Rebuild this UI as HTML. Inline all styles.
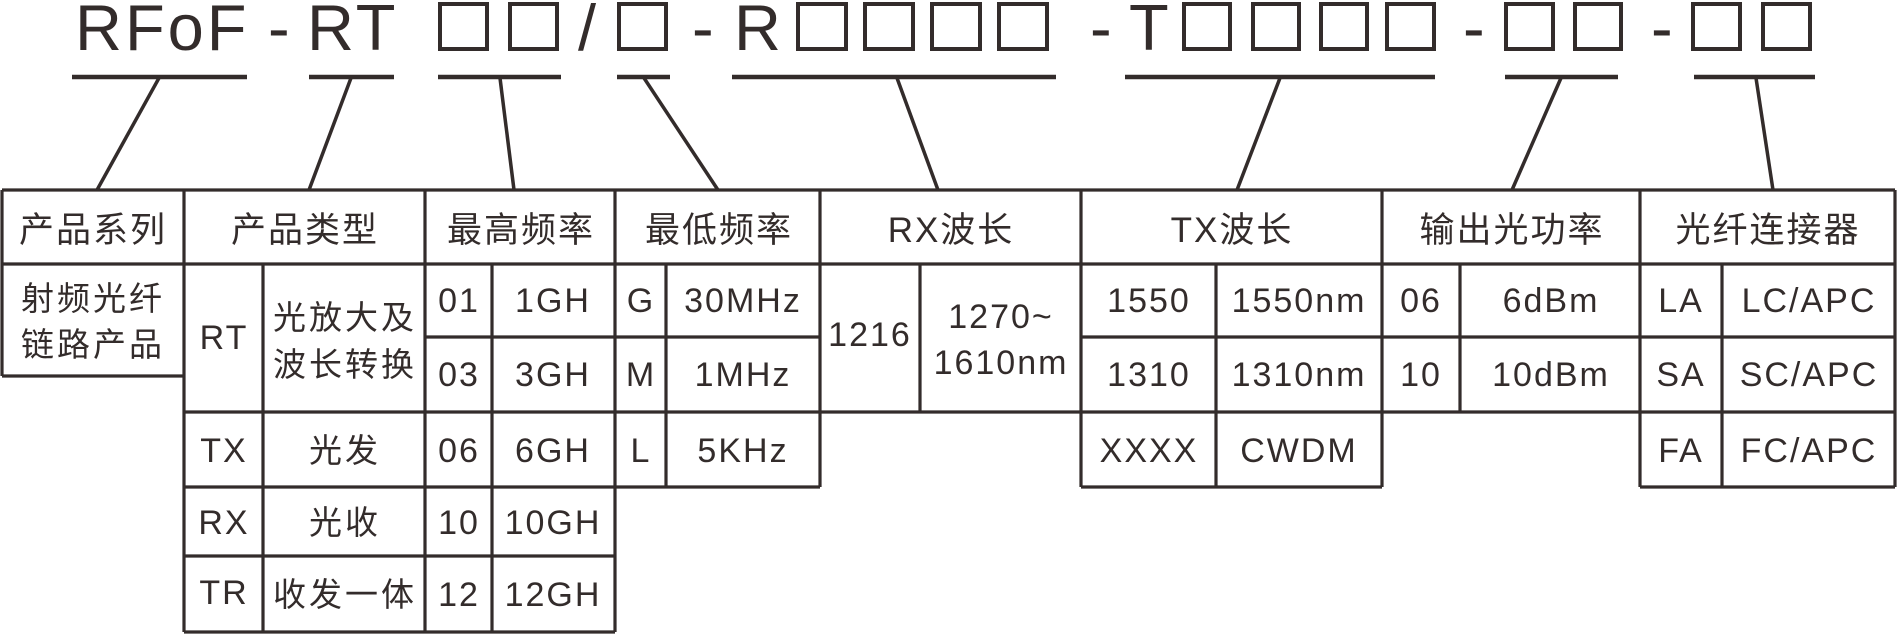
<!DOCTYPE html>
<html><head><meta charset="utf-8"><style>
html,body{margin:0;padding:0;background:#fff;}
svg{display:block;}
text{fill:#332c2b;font-family:"Liberation Sans","Noto Sans CJK SC",sans-serif;}
.t{font-size:34px;letter-spacing:2px;text-anchor:middle;}
.c{font-size:33px;letter-spacing:3px;text-anchor:middle;}
.hd{font-size:35px;letter-spacing:2px;text-anchor:middle;}
</style></head><body>
<svg width="1899" height="636" viewBox="0 0 1899 636" xmlns="http://www.w3.org/2000/svg">
<g fill="none" stroke="#332c2b">
<g stroke-width="4">
<rect x="440" y="4" width="47" height="45"/><rect x="510" y="4" width="47" height="45"/>
<rect x="619" y="4" width="47" height="45"/>
<rect x="798" y="4" width="48" height="45"/><rect x="865" y="4" width="48" height="45"/><rect x="932" y="4" width="48" height="45"/><rect x="999" y="4" width="48" height="45"/>
<rect x="1184" y="4" width="46" height="45"/><rect x="1253" y="4" width="46" height="45"/><rect x="1321" y="4" width="46" height="45"/><rect x="1387" y="4" width="47" height="45"/>
<rect x="1506" y="4" width="47" height="45"/><rect x="1575" y="4" width="46" height="45"/>
<rect x="1693" y="4" width="47" height="45"/><rect x="1763" y="4" width="47" height="45"/>
</g>
<g stroke-width="4.5">
<line x1="72" y1="77" x2="247" y2="77"/><line x1="309" y1="77" x2="394" y2="77"/>
<line x1="438" y1="77" x2="561" y2="77"/><line x1="617" y1="77" x2="670" y2="77"/>
<line x1="732" y1="77" x2="1056" y2="77"/><line x1="1125" y1="77" x2="1435" y2="77"/>
<line x1="1505" y1="77" x2="1618" y2="77"/><line x1="1694" y1="77" x2="1815" y2="77"/>
</g>
<g stroke-width="3.5">
<line x1="159" y1="78" x2="97" y2="190"/><line x1="351" y1="78" x2="309" y2="190"/>
<line x1="500" y1="78" x2="514" y2="190"/><line x1="644" y1="78" x2="718" y2="190"/>
<line x1="897" y1="78" x2="938" y2="190"/><line x1="1280" y1="78" x2="1237" y2="190"/>
<line x1="1561" y1="78" x2="1512" y2="190"/><line x1="1756" y1="78" x2="1773" y2="190"/>
</g>
<g stroke-width="3.2">
<line x1="2" y1="190" x2="1895" y2="190"/>
<line x1="2" y1="264" x2="1895" y2="264"/>
<line x1="2" y1="190" x2="2" y2="376"/><line x1="2" y1="376" x2="184" y2="376"/>
<line x1="184" y1="190" x2="184" y2="632"/>
<line x1="263" y1="264" x2="263" y2="632"/>
<line x1="425" y1="190" x2="425" y2="632"/>
<line x1="492" y1="264" x2="492" y2="632"/>
<line x1="615" y1="190" x2="615" y2="632"/>
<line x1="666" y1="264" x2="666" y2="487"/>
<line x1="820" y1="190" x2="820" y2="487"/>
<line x1="920" y1="264" x2="920" y2="412"/>
<line x1="1081" y1="190" x2="1081" y2="487"/>
<line x1="1216" y1="264" x2="1216" y2="487"/>
<line x1="1382" y1="190" x2="1382" y2="487"/>
<line x1="1460" y1="264" x2="1460" y2="412"/>
<line x1="1640" y1="190" x2="1640" y2="487"/>
<line x1="1722" y1="264" x2="1722" y2="487"/>
<line x1="1895" y1="190" x2="1895" y2="487"/>
<line x1="425" y1="337" x2="820" y2="337"/>
<line x1="1081" y1="337" x2="1895" y2="337"/>
<line x1="184" y1="412" x2="1895" y2="412"/>
<line x1="184" y1="487" x2="820" y2="487"/>
<line x1="1081" y1="487" x2="1382" y2="487"/>
<line x1="1640" y1="487" x2="1895" y2="487"/>
<line x1="184" y1="556" x2="615" y2="556"/>
<line x1="184" y1="632" x2="615" y2="632"/>
</g>
</g>
<g>
<text x="75" y="50" style="font-size:65px;letter-spacing:3px">RFoF</text>
<text x="268" y="50" style="font-size:65px">-</text>
<text x="307" y="50" style="font-size:65px;letter-spacing:3px">RT</text>
<text x="578" y="50" style="font-size:65px">/</text>
<text x="692" y="50" style="font-size:65px">-</text>
<text x="734" y="50" style="font-size:65px">R</text>
<text x="1090" y="50" style="font-size:65px">-</text>
<text x="1129" y="50" style="font-size:65px">T</text>
<text x="1463" y="50" style="font-size:65px">-</text>
<text x="1651" y="50" style="font-size:65px">-</text>
</g>
<text class="hd" x="93" y="242">产品系列</text>
<text class="hd" x="305" y="242">产品类型</text>
<text class="hd" x="521" y="242">最高频率</text>
<text class="hd" x="719" y="242">最低频率</text>
<text class="hd" x="951" y="242">RX波长</text>
<text class="hd" x="1232" y="242">TX波长</text>
<text class="hd" x="1512" y="242">输出光功率</text>
<text class="hd" x="1768" y="242">光纤连接器</text>
<text class="c" x="93" y="310">射频光纤</text>
<text class="c" x="93" y="356">链路产品</text>
<text class="t" x="224" y="349">RT</text>
<text class="c" x="345" y="329">光放大及</text>
<text class="c" x="345" y="376">波长转换</text>
<text class="t" x="224" y="462">TX</text><text class="c" x="345" y="462">光发</text>
<text class="t" x="224" y="534">RX</text><text class="c" x="345" y="534">光收</text>
<text class="t" x="224" y="604">TR</text><text class="c" x="345" y="606">收发一体</text>
<text class="t" x="459" y="312">01</text><text class="t" x="553" y="312">1GH</text>
<text class="t" x="459" y="386">03</text><text class="t" x="553" y="386">3GH</text>
<text class="t" x="459" y="462">06</text><text class="t" x="553" y="462">6GH</text>
<text class="t" x="459" y="534">10</text><text class="t" x="553" y="534">10GH</text>
<text class="t" x="459" y="606">12</text><text class="t" x="553" y="606">12GH</text>
<text class="t" x="641" y="312">G</text><text class="t" x="743" y="312">30MHz</text>
<text class="t" x="641" y="386">M</text><text class="t" x="743" y="386">1MHz</text>
<text class="t" x="641" y="462">L</text><text class="t" x="743" y="462">5KHz</text>
<text class="t" x="870" y="346">1216</text>
<text class="t" x="1001" y="328">1270~</text>
<text class="t" x="1001" y="374">1610nm</text>
<text class="t" x="1149" y="312">1550</text><text class="t" x="1299" y="312">1550nm</text>
<text class="t" x="1149" y="386">1310</text><text class="t" x="1299" y="386">1310nm</text>
<text class="t" x="1149" y="462">XXXX</text><text class="t" x="1299" y="462">CWDM</text>
<text class="t" x="1421" y="312">06</text><text class="t" x="1551" y="312">6dBm</text>
<text class="t" x="1421" y="386">10</text><text class="t" x="1551" y="386">10dBm</text>
<text class="t" x="1681" y="312">LA</text><text class="t" x="1809" y="312">LC/APC</text>
<text class="t" x="1681" y="386">SA</text><text class="t" x="1809" y="386">SC/APC</text>
<text class="t" x="1681" y="462">FA</text><text class="t" x="1809" y="462">FC/APC</text>
</svg>
</body></html>
